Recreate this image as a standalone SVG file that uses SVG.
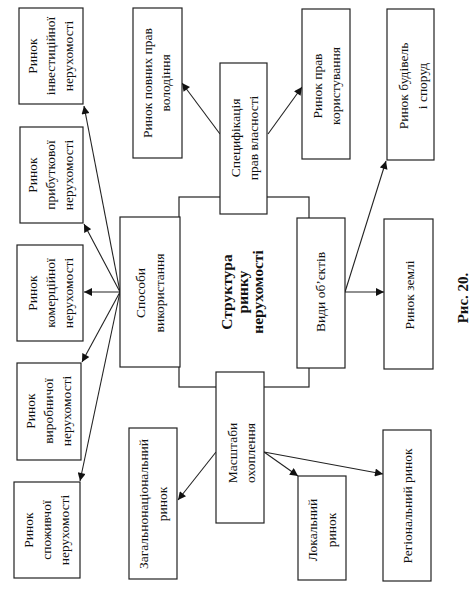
<svg xmlns="http://www.w3.org/2000/svg" width="475" height="591" viewBox="0 0 475 591">
<defs>
<marker id="ah" viewBox="0 0 10 10" refX="10" refY="5" markerWidth="9" markerHeight="8" markerUnits="userSpaceOnUse" orient="auto">
<path d="M0,0 L10,5 L0,10 z" fill="#111"/>
</marker>
<style>
rect{fill:#fff;stroke:#222;stroke-width:1.2}
text{font-family:"Liberation Serif","Times New Roman",serif;font-size:13.5px;fill:#111;text-anchor:middle}
.b{font-weight:bold;font-size:15.5px}
.c line{stroke:#222;stroke-width:1.1;marker-end:url(#ah)}
</style>
</defs>
<rect x="0" y="0" width="475" height="591" style="fill:#fff;stroke:none"/>
<g id="connectors" class="c">
<line x1="120" y1="292" x2="84" y2="106"/>
<line x1="120" y1="292" x2="84" y2="224"/>
<line x1="120" y1="292" x2="84" y2="292"/>
<line x1="120" y1="292" x2="82" y2="362"/>
<line x1="120" y1="292" x2="80" y2="481"/>
<line x1="220" y1="134" x2="182" y2="83"/>
<line x1="268" y1="134" x2="302" y2="87"/>
<line x1="345" y1="292" x2="384" y2="292"/>
<line x1="345" y1="292" x2="386" y2="161"/>
<line x1="216" y1="452" x2="178" y2="500"/>
<line x1="264" y1="452" x2="298" y2="476"/>
<line x1="264" y1="452" x2="383" y2="474"/>
</g>
<g id="center">
<rect x="179" y="197" width="130" height="190"/>
<text class="b" transform="translate(243,292) rotate(-90)"><tspan x="0" y="-11">Структура</tspan><tspan x="0" y="5">ринку</tspan><tspan x="0" y="20">нерухомості</tspan></text>
</g>
<g id="spec">
<rect x="220" y="63" width="47" height="151"/>
<text transform="translate(244,138) rotate(-90)"><tspan x="0" y="-4">Специфікація</tspan><tspan x="0" y="14">прав власності</tspan></text>
</g>
<g id="sposoby">
<rect x="120" y="217" width="60" height="150"/>
<text transform="translate(150,293) rotate(-90)"><tspan x="0" y="-5">Способи</tspan><tspan x="0" y="14">використання</tspan></text>
</g>
<g id="vydy">
<rect x="297" y="218" width="48" height="150"/>
<text transform="translate(321,292) rotate(-90)"><tspan x="0" y="4">Види об’єктів</tspan></text>
</g>
<g id="masshtaby">
<rect x="216" y="372" width="48" height="151"/>
<text transform="translate(240,453) rotate(-90)"><tspan x="0" y="-3">Масштаби</tspan><tspan x="0" y="15">охоплення</tspan></text>
</g>
<g id="investytsiynoi">
<rect x="19" y="8" width="64" height="96"/>
<text transform="translate(51,56) rotate(-90)"><tspan x="0" y="-14">Ринок</tspan><tspan x="0" y="4">інвестиційної</tspan><tspan x="0" y="22">нерухомості</tspan></text>
</g>
<g id="prybutkovoi">
<rect x="20" y="127" width="63" height="96"/>
<text transform="translate(51,175) rotate(-90)"><tspan x="0" y="-14">Ринок</tspan><tspan x="0" y="4">прибуткової</tspan><tspan x="0" y="22">нерухомості</tspan></text>
</g>
<g id="komertsiynoi">
<rect x="17" y="245" width="66" height="96"/>
<text transform="translate(51,293) rotate(-90)"><tspan x="0" y="-14">Ринок</tspan><tspan x="0" y="4">комерційної</tspan><tspan x="0" y="22">нерухомості</tspan></text>
</g>
<g id="vyrobnychoi">
<rect x="17" y="363" width="64" height="97"/>
<text transform="translate(49,411) rotate(-90)"><tspan x="0" y="-14">Ринок</tspan><tspan x="0" y="4">виробничої</tspan><tspan x="0" y="22">нерухомості</tspan></text>
</g>
<g id="spozhyvchoi">
<rect x="14" y="482" width="66" height="96"/>
<text transform="translate(47,530) rotate(-90)"><tspan x="0" y="-14">Ринок</tspan><tspan x="0" y="4">споживчої</tspan><tspan x="0" y="22">нерухомості</tspan></text>
</g>
<g id="povnykh">
<rect x="133" y="8" width="49" height="150"/>
<text transform="translate(157,83) rotate(-90)"><tspan x="0" y="-5">Ринок повних прав</tspan><tspan x="0" y="13">володіння</tspan></text>
</g>
<g id="korystuvannia">
<rect x="302" y="9" width="48" height="150"/>
<text transform="translate(326,86) rotate(-90)"><tspan x="0" y="-4">Ринок прав</tspan><tspan x="0" y="14">користування</tspan></text>
</g>
<g id="budivel">
<rect x="387" y="9" width="47" height="151"/>
<text transform="translate(411,86) rotate(-90)"><tspan x="0" y="-3">Ринок будівель</tspan><tspan x="0" y="16">і споруд</tspan></text>
</g>
<g id="zemli">
<rect x="384" y="219" width="49" height="150"/>
<text transform="translate(409,295) rotate(-90)"><tspan x="0" y="5">Ринок землі</tspan></text>
</g>
<g id="zahalnonats">
<rect x="129" y="428" width="48" height="151"/>
<text transform="translate(153,504) rotate(-90)"><tspan x="0" y="-5">Загальнонаціональний</tspan><tspan x="0" y="14">ринок</tspan></text>
</g>
<g id="lokalnyi">
<rect x="298" y="476" width="48" height="104"/>
<text transform="translate(322,530) rotate(-90)"><tspan x="0" y="-5">Локальний</tspan><tspan x="0" y="14">ринок</tspan></text>
</g>
<g id="rehionalnyi">
<rect x="383" y="430" width="48" height="151"/>
<text transform="translate(407,506) rotate(-90)"><tspan x="0" y="5">Регіональний ринок</tspan></text>
</g>
<g id="caption">
<text class="b" style="font-size:15px" transform="translate(463,298) rotate(-90)"><tspan x="0" y="5">Рис. 20.</tspan></text>
</g>
</svg>
